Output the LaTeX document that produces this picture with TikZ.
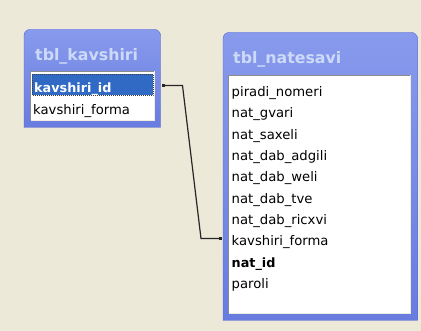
\documentclass[tikz,border=0pt]{standalone}
\usepackage{fontspec}
\setmainfont{DejaVu Sans}
\usepackage{tikz}
\usetikzlibrary{arrows.meta,calc}
\definecolor{WinBeige}{RGB}{236,233,216}
\definecolor{FrameTop}{RGB}{136,154,236}
\definecolor{FrameBottom}{RGB}{104,124,224}
\definecolor{FrameEdge}{RGB}{82,102,212}
\definecolor{TitleText}{RGB}{205,218,247}
\definecolor{SelectBlue}{RGB}{49,106,197}
\definecolor{SunkenGray}{RGB}{140,140,140}

\begin{document}
\begin{tikzpicture}[x=1pt,y=-1pt,
  tbltitle/.style={anchor=base west,inner sep=0pt,text=TitleText,font=\bfseries\fontsize{15.8}{15.8}\selectfont},
  fieldrow/.style={anchor=base west,inner sep=0pt,font=\fontsize{13.2}{13.2}\selectfont},
  keyrow/.style={fieldrow,font=\bfseries\fontsize{12.8}{12.8}\selectfont},
  link/.style={line width=1.2pt,draw=black!85,{Square[length=3pt,width=3.5pt]}-{Square[length=3pt,width=3.5pt]}}]
\fill[WinBeige] (0,0) rectangle (421,331);
% tbl_kavshiri
\shade[top color=FrameTop,bottom color=FrameBottom,draw=FrameEdge] (24,127.5) [rounded corners=6pt]-- (24,29.5) -- (160.5,29.5) [sharp corners]-- (160.5,127.5) -- cycle;
\fill[white] (30.5,71.5) rectangle (154.5,120.5);
\draw[SunkenGray] (30.5,120.5) |- (154.5,71.5);
\draw[WinBeige!80!white] (30.5,120.5) -| (154.5,71.5);
\fill[SelectBlue] (32,74) rectangle (153,95.5);
\draw[black!75,dash pattern=on 1pt off 1pt] (32,74) rectangle (153,95.5);
\node[tbltitle] (kavTitle) at (35,61) {tbl\_kavshiri};
\node[keyrow,text=white] (kavId) at (34,92.7) {kavshiri\_id};
\node[fieldrow] (kavForma) at (33,115) {kavshiri\_forma};
% tbl_natesavi
\shade[top color=FrameTop,bottom color=FrameBottom,draw=FrameEdge] (223,320.5) [rounded corners=6pt]-- (223,32.5) -- (417.5,32.5) [sharp corners]-- (417.5,320.5) -- cycle;
\fill[white] (228.5,75.5) rectangle (410.5,313.5);
\draw[SunkenGray] (228.5,313.5) |- (410.5,75.5);
\draw[WinBeige!80!white] (228.5,313.5) -| (410.5,75.5);
\node[tbltitle] (natTitle) at (233,63.3) {tbl\_natesavi};
\node[fieldrow] (natPiradi) at (231.5,96.4) {piradi\_nomeri};
\node[fieldrow] (natGvari) at (231.5,117.8) {nat\_gvari};
\node[fieldrow] (natSaxeli) at (231.5,139.1) {nat\_saxeli};
\node[fieldrow] (natAdgili) at (231.5,160.5) {nat\_dab\_adgili};
\node[fieldrow] (natWeli) at (231.5,181.9) {nat\_dab\_weli};
\node[fieldrow] (natTve) at (231.5,203.2) {nat\_dab\_tve};
\node[fieldrow] (natRicxvi) at (231.5,224.6) {nat\_dab\_ricxvi};
\node[fieldrow] (natKavshiri) at (231.5,246) {kavshiri\_forma};
\node[keyrow] (natId) at (231.5,267.4) {nat\_id};
\node[fieldrow] (natParoli) at (231.5,288.7) {paroli};
% relationship line
\coordinate (kavLink) at ($(kavId.base west)+(127.5,-7.2)$);
\coordinate (natLink) at ($(natKavshiri.base west)+(-10,-7.5)$);
\draw[link] (kavLink) -- +(21,0) -- ($(natLink)+(-20.5,0)$) -- (natLink);
\end{tikzpicture}
\end{document}
